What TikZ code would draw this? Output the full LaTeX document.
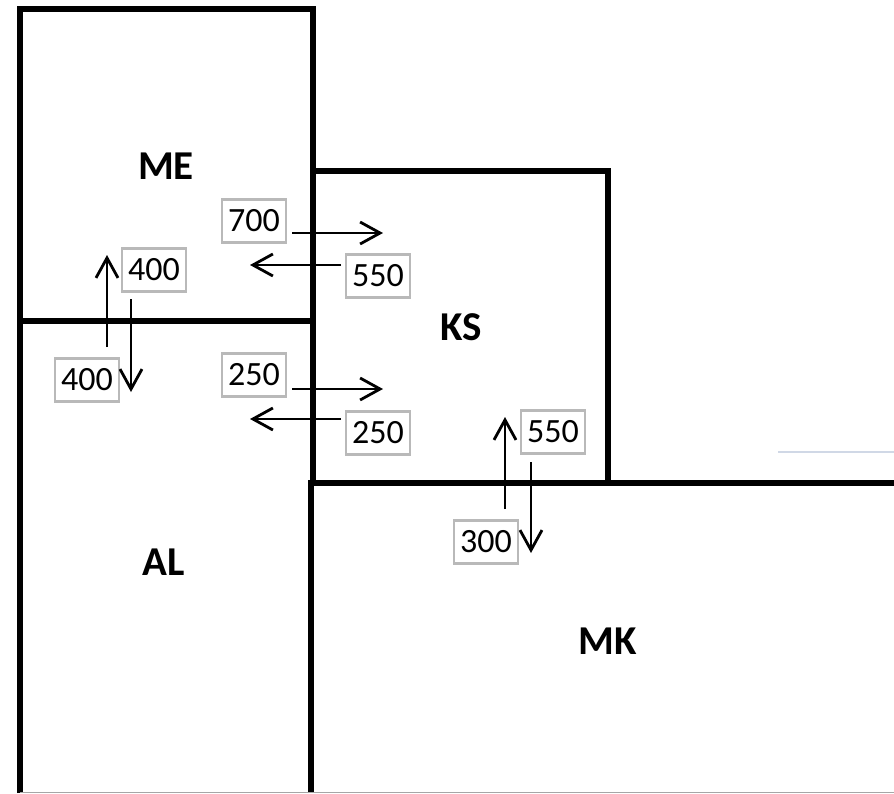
\documentclass[tikz,border=0pt]{standalone}
\usepackage{fontspec}
\setmainfont{Carlito}
\usepackage{tikz}
\usetikzlibrary{arrows.meta}
\usepackage{xcolor}
\definecolor{boxgray}{RGB}{185,185,185}
\definecolor{faintline}{RGB}{208,216,230}

\tikzset{
  wall/.style={line width=5.5pt},
  region/.style={font=\fontsize{41}{48}\selectfont\bfseries},
  amount/.style={draw=boxgray, line width=2.2pt, minimum width=64pt, minimum height=43pt,
    inner sep=0pt, font=\fontsize{34}{40}\selectfont},
  flow/.style={line width=2.8pt, -{Straight Barb[length=20pt,width=22pt]}}
}

\begin{document}
\begin{tikzpicture}[x=1pt,y=-1pt]
\useasboundingbox (0,0) rectangle (894,793);
% borders
\draw[wall] (20,793) -- (20,9) -- (313,9) -- (313,483);
\draw[wall] (20,321) -- (313,321);
\draw[wall] (313,171) -- (608,171) -- (608,483);
\draw[wall] (311,793) -- (311,483) -- (894,483);
\draw[gray!70, line width=1pt] (20,792) -- (894,792);
\draw[faintline, line width=1.5pt] (778,452) -- (894,452);
% regions
\node[region] (me) at (166,166) {ME};
\node[region] (ks) at (461,327) {KS};
\node[region] (al) at (164,562) {AL};
\node[region] (mk) at (608,641) {MK};
% amounts
\node[amount] (meks) at (254,221) {700};
\node[amount] (ksme) at (378,276) {550};
\node[amount] (alks) at (254,375) {250};
\node[amount] (ksal) at (378,433) {250};
\node[amount] (alme) at (154,270) {400};
\node[amount] (meal) at (87,380) {400};
\node[amount] (mkks) at (553,432) {550};
\node[amount] (ksmk) at (486,542) {300};
% arrow ends
\coordinate (meks0) at (292,233); \coordinate (meks1) at (383,233);
\coordinate (ksme0) at (341,265); \coordinate (ksme1) at (250,265);
\coordinate (alks0) at (292,389); \coordinate (alks1) at (383,389);
\coordinate (ksal0) at (341,419); \coordinate (ksal1) at (250,419);
\coordinate (alme0) at (107,347); \coordinate (alme1) at (107,255);
\coordinate (meal0) at (131,299); \coordinate (meal1) at (131,392);
\coordinate (mkks0) at (505,509); \coordinate (mkks1) at (505,417);
\coordinate (ksmk0) at (531,462); \coordinate (ksmk1) at (531,553);
\foreach \f in {meks,ksme,alks,ksal,alme,meal,mkks,ksmk}
  \draw[flow] (\f0) -- (\f1);
\end{tikzpicture}
\end{document}
